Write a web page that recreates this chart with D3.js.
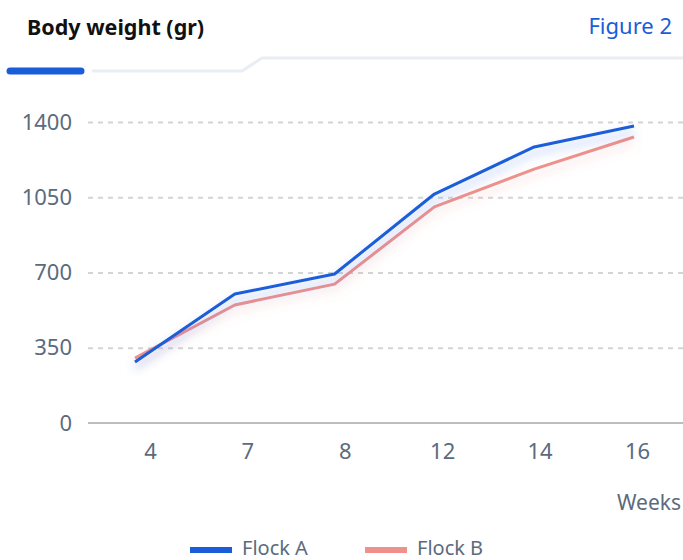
<!DOCTYPE html>
<html>
<head>
<meta charset="utf-8">
<script src="https://cdn.jsdelivr.net/npm/d3@7"></script>
<style>
  html, body { margin: 0; padding: 0; background: #fff; }
  svg { display: block; font-family: "Noto Sans", sans-serif; }
</style>
</head>
<body>
<div id="chart"></div>
<script>
// data
const weeks = ["4", "7", "8", "12", "14", "16"];
const flockA = [284, 600, 693, 1065, 1284, 1381];
const flockB = [302, 549, 646, 1005, 1181, 1330];
const yTicks = [0, 350, 700, 1050, 1400];
const seriesNames = ["Flock A", "Flock B"];
const seriesColors = ["#1a5dd8", "#f0908a"];

const width = 683;
const height = 560;
const textGray = "#5b6b7e";

const svg = (
    d3.select("#chart")
    .append("svg")
    .attr("width", width)
    .attr("height", height)
);

// glow filters under each line
const defs = svg.append("defs");
seriesColors.forEach((c, i) => {
    const f = defs.append("filter")
        .attr("id", `glow${i}`)
        .attr("x", "-20%").attr("y", "-40%")
        .attr("width", "140%").attr("height", "180%");
    f.append("feGaussianBlur").attr("in", "SourceAlpha").attr("stdDeviation", 5).attr("result", "b");
    f.append("feOffset").attr("in", "b").attr("dy", 6).attr("result", "o");
    f.append("feFlood").attr("flood-color", i === 0 ? "#4a7ff0" : c).attr("flood-opacity", i === 0 ? 0.45 : 0.3);
    f.append("feComposite").attr("in2", "o").attr("operator", "in").attr("result", "s");
    const m = f.append("feMerge");
    m.append("feMergeNode").attr("in", "s");
    m.append("feMergeNode").attr("in", "SourceGraphic");
});

// header
svg.append("text")
    .attr("x", 27).attr("y", 35)
    .attr("font-size", 21.5).attr("font-weight", 700)
    .attr("fill", "#111")
    .text("Body weight (gr)");
svg.append("text")
    .attr("x", 672).attr("y", 34)
    .attr("text-anchor", "end")
    .attr("font-size", 22)
    .attr("fill", "#1a5dd8")
    .text("Figure 2");

svg.append("path")
    .attr("d", "M92,71 H242 L262,58 H683")
    .attr("fill", "none")
    .attr("stroke", "#e9eef4")
    .attr("stroke-width", 3);
svg.append("line")
    .attr("x1", 10).attr("x2", 81)
    .attr("y1", 71).attr("y2", 71)
    .attr("stroke", "#1a5dd8")
    .attr("stroke-width", 7)
    .attr("stroke-linecap", "round");

// scales
const xScale = d3.scalePoint().domain(weeks).range([135, 634]);
const xLabelScale = d3.scalePoint().domain(weeks).range([150, 637]);
const yScale = d3.scaleLinear().domain([0, 1400]).range([423, 122]);

// y axis + grid
const yAxis = d3.axisLeft(yScale)
    .tickValues(yTicks)
    .tickFormat(d3.format("d"))
    .tickSize(-(width - 88))
    .tickPadding(16);
const gy = svg.append("g")
    .attr("transform", "translate(88,0)")
    .call(yAxis);
gy.select(".domain").remove();
gy.selectAll(".tick line")
    .attr("stroke", "#d4d4d4")
    .attr("stroke-width", 2)
    .attr("stroke-dasharray", "5 5")
    .filter((d) => d === 0).remove();
gy.selectAll(".tick text")
    .attr("font-size", 22)
    .attr("fill", textGray)
    .attr("font-family", "Noto Sans, sans-serif");

// baseline
svg.append("line")
    .attr("x1", 88).attr("x2", width)
    .attr("y1", yScale(0)).attr("y2", yScale(0))
    .attr("stroke", "#bdbdbd")
    .attr("stroke-width", 2);

// x axis labels
const xAxis = d3.axisBottom(xLabelScale).tickSize(0).tickPadding(20);
const gx = svg.append("g")
    .attr("transform", `translate(0,${yScale(0)})`)
    .call(xAxis);
gx.select(".domain").remove();
gx.selectAll(".tick text")
    .attr("font-size", 22)
    .attr("fill", textGray)
    .attr("font-family", "Noto Sans, sans-serif");

svg.append("text")
    .attr("x", 681).attr("y", 510)
    .attr("text-anchor", "end")
    .attr("font-size", 21)
    .attr("fill", textGray)
    .text("Weeks");

// lines
const line = d3.line()
    .x((d, i) => xScale(weeks[i]))
    .y((d) => yScale(d));

[flockB, flockA].forEach((vals) => {
    const i = vals === flockA ? 0 : 1;
    svg.append("path")
        .datum(vals)
        .attr("d", line)
        .attr("fill", "none")
        .attr("stroke", seriesColors[i])
        .attr("stroke-width", 3)
        .attr("stroke-linejoin", "round")
        .attr("filter", `url(#glow${i})`);
});

// legend
const legendX = [190, 365];
seriesNames.forEach((name, i) => {
    const g = svg.append("g").attr("transform", `translate(${legendX[i]},550)`);
    g.append("rect")
        .attr("x", 0).attr("y", -3)
        .attr("width", 42).attr("height", 6)
        .attr("fill", seriesColors[i]);
    g.append("text")
        .attr("x", 52).attr("y", 5)
        .attr("font-size", 20)
        .attr("fill", textGray)
        .text(name);
});
</script>
</body>
</html>
